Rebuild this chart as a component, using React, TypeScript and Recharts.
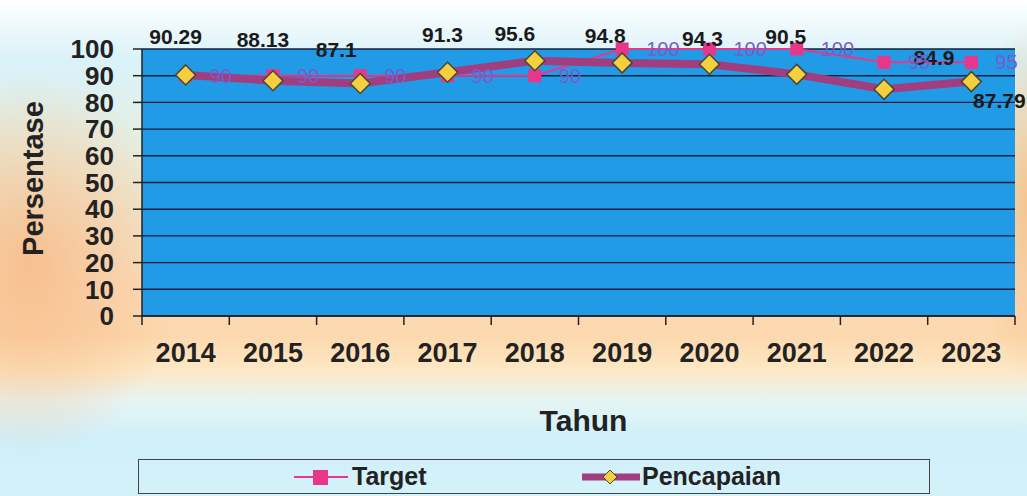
import React from 'react';
import { ComposedChart, Line, XAxis, YAxis, CartesianGrid, LabelList } from 'recharts';

const years = ['2014', '2015', '2016', '2017', '2018', '2019', '2020', '2021', '2022', '2023'];
const target = [90, 90, 90, 90, 90, 100, 100, 100, 95, 95];
const pencapaian = [90.29, 88.13, 87.1, 91.3, 95.6, 94.8, 94.3, 90.5, 84.9, 87.79];
const yTicks = [0, 10, 20, 30, 40, 50, 60, 70, 80, 90, 100];

const FONT = 'Arial, "Liberation Sans", sans-serif';
const W = 1027;
const H = 496;
const PLOT_LEFT = 142;
const PLOT_RIGHT = 1015;
const BAND = (PLOT_RIGHT - PLOT_LEFT) / years.length;

// manual label nudges for the black (Pencapaian) labels, like the excel original
const NUDGE: [number, number][] = [
  [-10, -38], [-10, -41], [-24, -34], [-5, -38], [-20, -27],
  [-17, -27], [-7, -26], [-11, -38], [50, -32], [28, 19],
];

const rows = years.map((year, i) => ({ year, target: target[i], pencapaian: pencapaian[i] }));

const SquareDot = (props: any) => {
  const { cx, cy } = props;
  if (cx == null || cy == null) return null;
  return <rect x={cx - 6.5} y={cy - 6.5} width={13} height={13} fill="#e8378b" />;
};

const DiamondDot = (props: any) => {
  const { cx, cy } = props;
  if (cx == null || cy == null) return null;
  return (
    <path
      d={`M${cx},${cy - 10} L${cx + 10},${cy} L${cx},${cy + 10} L${cx - 10},${cy} Z`}
      fill="#f4d03f"
      stroke="#4a4636"
      strokeWidth={1.5}
    />
  );
};

const TargetLabel = (props: any) => {
  const { x, y, value } = props;
  return (
    <text x={x + 24} y={y} dominantBaseline="central" fill="#7a5cc6" fontSize={20} fontFamily={FONT}>
      {value}
    </text>
  );
};

const PencapaianLabel = (props: any) => {
  const { x, y, value, index } = props;
  const [dx, dy] = NUDGE[index] || [0, -35];
  return (
    <text
      x={x + dx}
      y={y + dy}
      textAnchor="middle"
      dominantBaseline="central"
      fill="#1a1a1a"
      fontSize={21}
      fontWeight="bold"
      fontFamily={FONT}
    >
      {value}
    </text>
  );
};

const XTick = (props: any) => {
  const { x, y, payload, index } = props;
  const last = index === years.length - 1;
  return (
    <g>
      <line x1={x - BAND / 2} y1={y} x2={x - BAND / 2} y2={y + 9} stroke="#222" strokeWidth={1.5} />
      {last && <line x1={x + BAND / 2} y1={y} x2={x + BAND / 2} y2={y + 9} stroke="#222" strokeWidth={1.5} />}
      <text x={x} y={y + 37} textAnchor="middle" dominantBaseline="central" fill="#222" fontSize={27} fontWeight="bold" fontFamily={FONT}>
        {payload.value}
      </text>
    </g>
  );
};

const BG = [
  'radial-gradient(ellipse 150px 190px at 30px 265px, rgba(247,186,135,0.85), rgba(247,186,135,0))',
  'radial-gradient(ellipse 50px 180px at 1027px 200px, rgba(246,188,128,0.8), rgba(246,188,128,0))',
  'linear-gradient(to bottom, #ffffff 0px, #f6fcfd 12px, #d9f2f9 60px, #e6eedf 150px, #fbdcb9 290px, #fcd8ae 335px, #fde8c4 370px, #e6f5f4 400px, #cfeff9 440px, #d4f2fa 496px)',
].join(', ');

const App = () => {
  return (
    <div style={{ position: 'absolute', left: 0, top: 0, width: W, height: H, background: BG, fontFamily: FONT, overflow: 'hidden' }}>
      <ComposedChart width={W} height={H} data={rows} margin={{ top: 49, right: W - PLOT_RIGHT, left: 0, bottom: 0 }}>
        <CartesianGrid vertical={false} stroke="#16203a" strokeWidth={1.4} fill="#229be6" fillOpacity={1} />
        <XAxis
          dataKey="year"
          scale="point"
          padding={{ left: BAND / 2, right: BAND / 2 }}
          height={H - 316}
          interval={0}
          tickSize={0}
          tickMargin={0}
          tickLine={false}
          axisLine={{ stroke: '#222', strokeWidth: 1.5 }}
          tick={<XTick />}
          label={(p: any) => {
            const vb = p.viewBox;
            return (
              <text x={vb.x + vb.width / 2 + 5} y={vb.y + 104} textAnchor="middle" dominantBaseline="central" fill="#222" fontSize={30} fontWeight="bold" fontFamily={FONT}>
                Tahun
              </text>
            );
          }}
        />
        <YAxis
          domain={[0, 100]}
          ticks={yTicks}
          interval={0}
          width={PLOT_LEFT}
          tickSize={9}
          tickMargin={19}
          tickLine={{ stroke: '#222', strokeWidth: 1.5 }}
          axisLine={{ stroke: '#222', strokeWidth: 1.5 }}
          tick={{ fill: '#222', fontSize: 26, fontWeight: 'bold', fontFamily: FONT }}
          label={(p: any) => {
            const vb = p.viewBox;
            const cx = 33;
            const cy = vb.y + vb.height / 2 - 4;
            return (
              <text x={cx} y={cy} transform={`rotate(-90 ${cx} ${cy})`} textAnchor="middle" dominantBaseline="central" fill="#222" fontSize={29} fontWeight="bold" fontFamily={FONT}>
                Persentase
              </text>
            );
          }}
        />
        <Line dataKey="target" stroke="#e8378b" strokeWidth={2} dot={<SquareDot />} activeDot={false} isAnimationActive={false} />
        <Line dataKey="pencapaian" stroke="#a03e80" strokeWidth={8} dot={<DiamondDot />} activeDot={false} isAnimationActive={false}>
          <LabelList dataKey="pencapaian" content={<PencapaianLabel />} />
        </Line>
        {/* invisible copy of target, only to keep its labels on top */}
        <Line dataKey="target" stroke="none" dot={false} activeDot={false} isAnimationActive={false}>
          <LabelList dataKey="target" content={<TargetLabel />} />
        </Line>
      </ComposedChart>

      <div style={{ position: 'absolute', left: 138, top: 459, width: 790, height: 33, border: '1px solid #444' }}>
        <svg style={{ position: 'absolute', left: 155, top: 7 }} width={56} height={20}>
          <line x1={0} y1={10} x2={54} y2={10} stroke="#e8378b" strokeWidth={2} />
          <rect x={19} y={3} width={15} height={15} fill="#e8378b" />
        </svg>
        <span style={{ position: 'absolute', left: 213, top: 2, fontSize: 25, fontWeight: 'bold', color: '#222' }}>Target</span>
        <svg style={{ position: 'absolute', left: 443, top: 7 }} width={60} height={20}>
          <line x1={0} y1={10} x2={58} y2={10} stroke="#a03e80" strokeWidth={7} />
          <path d="M28,3 L35,10 L28,17 L21,10 Z" fill="#f4d03f" stroke="#4a4636" strokeWidth={1} />
        </svg>
        <span style={{ position: 'absolute', left: 503, top: 2, fontSize: 25, fontWeight: 'bold', color: '#222' }}>Pencapaian</span>
      </div>
    </div>
  );
};

export default App;
